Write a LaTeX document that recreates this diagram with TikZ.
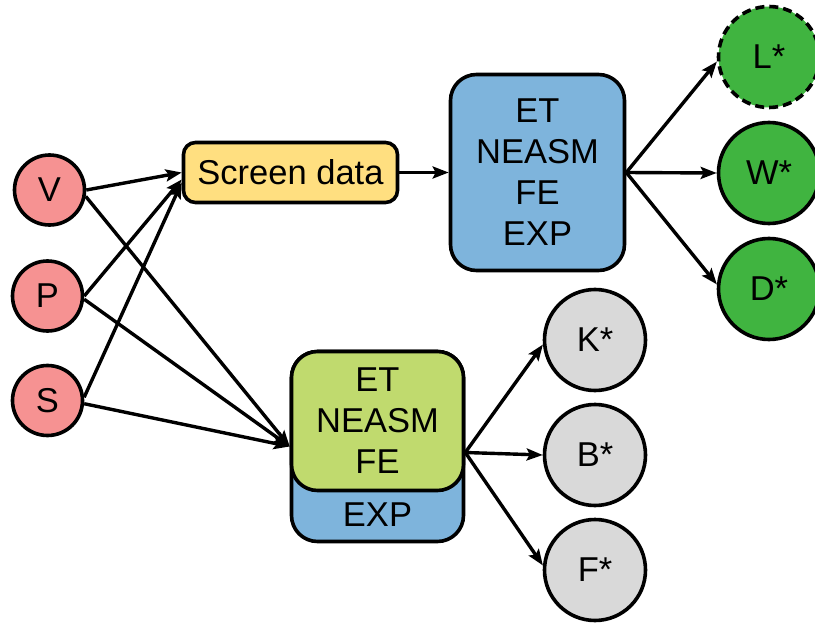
\documentclass[tikz,border=0pt]{standalone}
\usepackage{fontspec}
\setmainfont{Liberation Sans}
\usepackage{tikz}
\usetikzlibrary{arrows.meta}

\definecolor{inred}{RGB}{246,146,146}
\definecolor{scryellow}{RGB}{255,223,128}
\definecolor{featblue}{RGB}{126,180,220}
\definecolor{featlime}{RGB}{192,218,110}
\definecolor{outgreen}{RGB}{64,180,64}
\definecolor{outgrey}{RGB}{217,217,217}

\begin{document}
\begin{tikzpicture}[x=1pt,y=-1pt,
			font=\fontsize{34.5}{41}\selectfont,
			every node/.style={line width=3.6pt,inner sep=0pt},
			inp/.style={draw,circle,fill=inred,minimum size=70pt},
			outp/.style={draw,circle,minimum size=101pt},
			box/.style={draw,rounded corners=#1,align=center},
			box/.default=12pt,
			conn/.style={line width=3.4pt,-{Stealth[length=16pt,width=12pt,inset=3pt]}}]
		\useasboundingbox (0,0) rectangle (815,626);
		% inputs
		\node[inp] (V) at (49.5,190) {V};
		\node[inp] (P) at (47.5,296) {P};
		\node[inp] (S) at (47.5,400.5) {S};
		% screening and the two feature boxes
		\node[box,fill=scryellow,minimum width=214pt,minimum height=60pt]
			(screen) at (290.5,172.5) {Screen data};
		\node[box=26pt,fill=featblue,minimum width=174pt,minimum height=196pt]
			(top) at (537.5,172.5) {ET\\NEASM\\FE\\EXP};
		\node[box=26pt,fill=featblue,minimum width=172pt,minimum height=190pt]
			(low) at (377.5,446.5) {};
		\node[box=26pt,fill=featlime,minimum width=172pt,minimum height=139pt]
			(lowfe) at (377.5,421) {ET\\NEASM\\FE};
		\node (lowexp) at (377.5,515) {EXP};
		% outputs
		\node[outp,fill=outgreen,dashed,dash pattern=on 9pt off 5pt] (L) at (769,57) {L*};
		\node[outp,fill=outgreen] (W) at (769,173) {W*};
		\node[outp,fill=outgreen] (D) at (769,289) {D*};
		\node[outp,fill=outgrey] (K) at (595,340) {K*};
		\node[outp,fill=outgrey] (B) at (595,455) {B*};
		\node[outp,fill=outgrey] (F) at (595,570) {F*};

		\draw[conn] (V.east) -- (screen.west);
		\draw[conn] (P.east) -- ([yshift=-7pt]screen.west);
		\draw[conn] (S.5) -- ([yshift=-10pt]screen.west);
		\draw[conn] (V.-10) -- (low.west);
		\draw[conn] (P.-5) -- (low.west);
		\draw[conn] (S.-5) -- (low.west);
		\draw[conn] (screen.east) -- (top.west);
		\draw[conn] (top.east) -- (L.185);
		\draw[conn] (top.east) -- (W.west);
		\draw[conn] (top.east) -- (D.175);
		\draw[conn] ([yshift=-6pt]low.east) -- (K.185);
		\draw[conn] ([yshift=-6pt]low.east) -- (B.west);
		\draw[conn] ([yshift=-6pt]low.east) -- (F.175);
\end{tikzpicture}
\end{document}
